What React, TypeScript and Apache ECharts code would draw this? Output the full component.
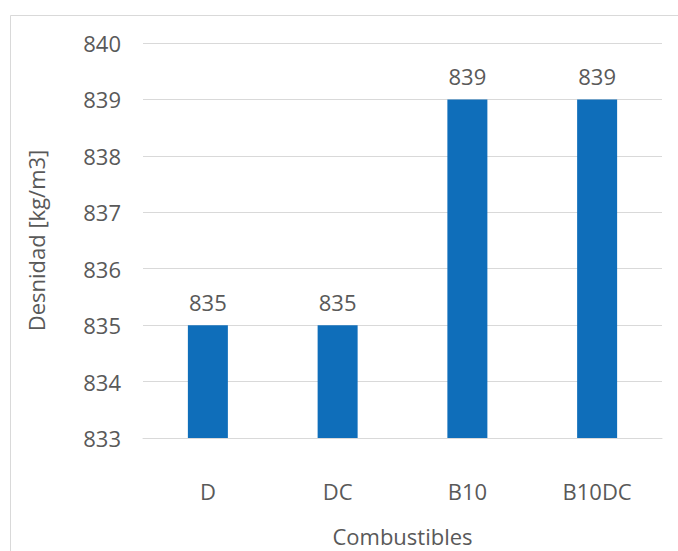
import React, { useEffect, useRef } from "react";
import * as echarts from "echarts";

// Densidad de cada combustible
const categories: string[] = ["D", "DC", "B10", "B10DC"];
const densityValues: number[] = [835, 835, 839, 839];
const yTicks: number[] = [833, 834, 835, 836, 837, 838, 839, 840];

const TEXT = "#595959";
const FONT = "Open Sans";

export default function App() {
  const ref = useRef<HTMLDivElement>(null);

  useEffect(() => {
    if (!ref.current) return;
    const chart = echarts.init(ref.current, undefined, { renderer: "svg" });
    chart.setOption({
      animation: false,
      backgroundColor: "#ffffff",
      textStyle: { fontFamily: FONT },
      graphic: [
        {
          type: "rect",
          left: 8,
          top: 13,
          shape: { width: 720, height: 600 },
          style: { fill: "none", stroke: "#D9D9D9", lineWidth: 1 },
          silent: true,
        },
      ],
      grid: {
        left: 143,
        right: 16,
        top: 43,
        bottom: 113,
        containLabel: false,
        outerBoundsMode: "none",
      },
      xAxis: {
        type: "category",
        data: categories,
        name: "Combustibles",
        nameLocation: "middle",
        nameGap: 87,
        nameTextStyle: { color: TEXT, fontSize: 22, fontFamily: FONT },
        axisLine: { show: true, lineStyle: { color: "#D9D9D9", width: 1 } },
        axisTick: { show: false },
        axisLabel: { color: TEXT, fontSize: 22, fontFamily: FONT, margin: 42 },
      },
      yAxis: {
        type: "value",
        min: yTicks[0],
        max: yTicks[yTicks.length - 1],
        interval: 1,
        name: "Desnidad [kg/m3]",
        nameLocation: "middle",
        nameGap: 96,
        nameTextStyle: { color: TEXT, fontSize: 22, fontFamily: FONT },
        axisLine: { show: false },
        axisTick: { show: false },
        axisLabel: { color: TEXT, fontSize: 22, fontFamily: FONT, margin: 22 },
        splitLine: { lineStyle: { color: "#D9D9D9", width: 1 } },
      },
      series: [
        {
          type: "bar",
          data: densityValues,
          barWidth: 40,
          itemStyle: { color: "#0F6EBA" },
          label: {
            show: true,
            position: "top",
            distance: 12,
            color: TEXT,
            fontSize: 22,
            fontFamily: FONT,
          },
        },
      ],
    });
    return () => chart.dispose();
  }, []);

  return (
    <div
      ref={ref}
      style={{ position: "absolute", left: 0, top: 0, width: 678, height: 551 }}
    />
  );
}
